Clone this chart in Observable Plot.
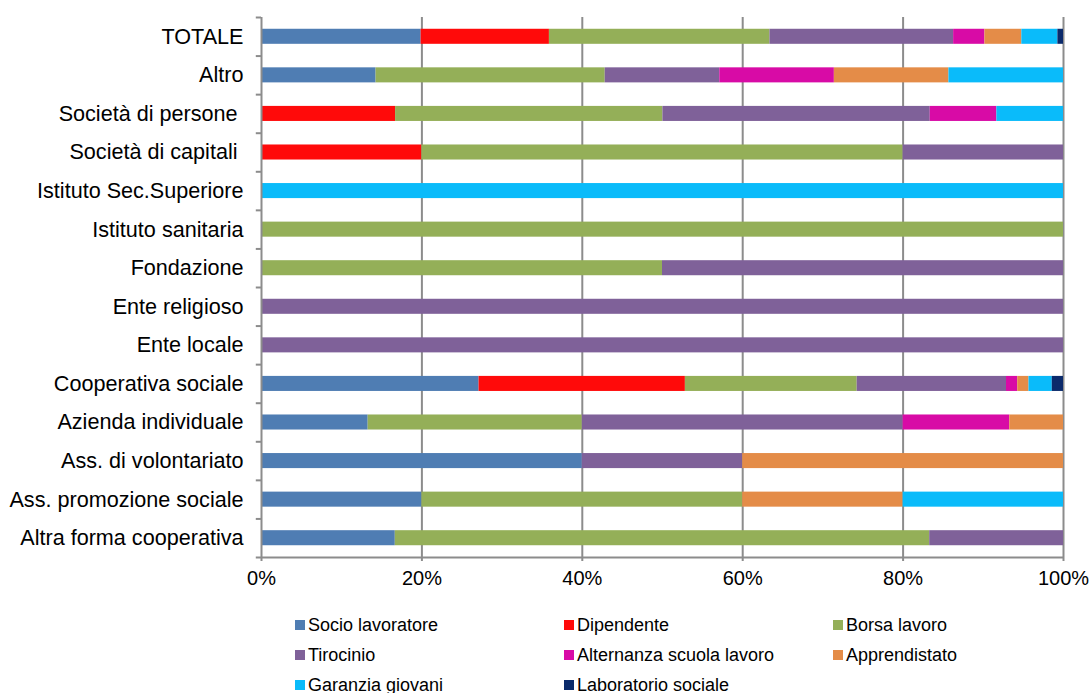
<!DOCTYPE html>
<html>
<head>
<meta charset="utf-8">
<script src="https://cdn.jsdelivr.net/npm/d3@7"></script>
<script src="https://cdn.jsdelivr.net/npm/@observablehq/plot@0.6"></script>
<style>
  html, body { margin: 0; padding: 0; background: #fff; }
  body { font-family: "Liberation Sans", Arial, sans-serif; width: 1091px; height: 693px; overflow: hidden; }
  #chart svg { display: block; }
  #legend { display: grid; grid-template-columns: repeat(3, 269px); grid-auto-rows: 30px; padding-left: 295px; margin-top: 10px; }
  .item { display: flex; align-items: center; font-size: 18px; color: #000; white-space: nowrap; }
  .sw { width: 10px; height: 10px; margin-right: 3px; flex: none; }
</style>
</head>
<body>
<div id="chart"></div>
<div id="legend"></div>
<script>
// Categories (top to bottom)
const categories = [
  "TOTALE",
  "Altro",
  "Società di persone\u00a0",
  "Società di capitali\u00a0",
  "Istituto Sec.Superiore",
  "Istituto sanitaria",
  "Fondazione",
  "Ente religioso",
  "Ente locale",
  "Cooperativa sociale",
  "Azienda individuale",
  "Ass. di volontariato",
  "Ass. promozione sociale",
  "Altra forma cooperativa"
];

const seriesNames = [
  "Socio lavoratore",
  "Dipendente",
  "Borsa lavoro",
  "Tirocinio",
  "Alternanza scuola lavoro",
  "Apprendistato",
  "Garanzia giovani",
  "Laboratorio sociale"
];

const seriesColors = ["#4f7db3", "#ff0a0a", "#94af58", "#7f6199", "#d80ba6", "#e48c48", "#0abbfa", "#0b2a6b"];

// Percent values per series, aligned with categories
const socioLavoratore   = [19.9, 14.3,  0.0,  0,   0,   0,  0,   0,   0, 27.1, 13.3, 40, 20, 16.7];
const dipendente        = [16.0,  0.0, 16.7, 20,   0,   0,  0,   0,   0, 25.7,  0.0,  0,  0,  0.0];
const borsaLavoro       = [27.5, 28.6, 33.3, 60,   0, 100, 50,   0,   0, 21.4, 26.7,  0, 40, 66.7];
const tirocinio         = [22.9, 14.3, 33.3, 20,   0,   0, 50, 100, 100, 18.6, 40.0, 20,  0, 16.7];
const alternanza        = [ 3.9, 14.3,  8.3,  0,   0,   0,  0,   0,   0,  1.4, 13.3,  0,  0,  0.0];
const apprendistato     = [ 4.6, 14.3,  0.0,  0,   0,   0,  0,   0,   0,  1.4,  6.7, 40, 20,  0.0];
const garanziaGiovani   = [ 4.5, 14.3,  8.3,  0, 100,   0,  0,   0,   0,  2.9,  0.0,  0, 20,  0.0];
const laboratorioSociale= [ 0.7,  0.0,  0.0,  0,   0,   0,  0,   0,   0,  1.4,  0.0,  0,  0,  0.0];

const xTicks = [0, 0.2, 0.4, 0.6, 0.8, 1];

const seriesValues = [socioLavoratore, dipendente, borsaLavoro, tirocinio, alternanza, apprendistato, garanziaGiovani, laboratorioSociale];

const table = [];
categories.forEach((c, i) => {
  seriesNames.forEach((s, j) => {
    table.push({category: c, series: s, value: seriesValues[j][i]});
  });
});

const W = 1091, H = 600, mT = 17, mB = 43, mL = 261, mR = 28;
const step = (H - mT - mB) / categories.length;
const gray = "#8c8c8c";

const chart = Plot.plot({
  width: W,
  height: H,
  marginTop: mT,
  marginBottom: mB,
  marginLeft: mL,
  marginRight: mR,
  style: {fontFamily: "'Liberation Sans', Arial, sans-serif", color: "#000", background: "#fff", overflow: "visible"},
  x: {domain: [0, 1], axis: null},
  y: {domain: categories, paddingInner: 0.61, paddingOuter: 0.305, round: false, axis: null},
  color: {domain: seriesNames, range: seriesColors},
  marks: [
    Plot.gridX(xTicks.slice(1), {stroke: gray, strokeOpacity: 1, strokeWidth: 2}),
    Plot.barX(table, Plot.stackX({x: "value", y: "category", fill: "series", offset: "normalize"})),
    Plot.ruleX([0], {stroke: gray, strokeWidth: 2}),
    Plot.ruleY(categories, {y: d => d, x1: -0.0065, x2: 0, dy: -step / 2, stroke: gray, strokeWidth: 2}),
    Plot.ruleY([categories[categories.length - 1]], {y: d => d, x1: -0.0065, x2: 1, dy: step / 2, stroke: gray, strokeWidth: 2}),
    Plot.axisX(xTicks, {anchor: "bottom", tickSize: 4, tickPadding: 9, tickFormat: d3.format(".0%"), fontSize: 20, stroke: gray, strokeWidth: 2, fill: "#000", label: null}),
    Plot.axisY({anchor: "left", tickSize: 0, tickPadding: 18, fontSize: 21.6, fill: "#000", label: null})
  ]
});
document.getElementById("chart").appendChild(chart);

const legend = document.getElementById("legend");
seriesNames.forEach((s, i) => {
  const item = document.createElement("div");
  item.className = "item";
  const sw = document.createElement("span");
  sw.className = "sw";
  sw.style.background = seriesColors[i];
  item.appendChild(sw);
  item.appendChild(document.createTextNode(s));
  legend.appendChild(item);
});
</script>
</body>
</html>
